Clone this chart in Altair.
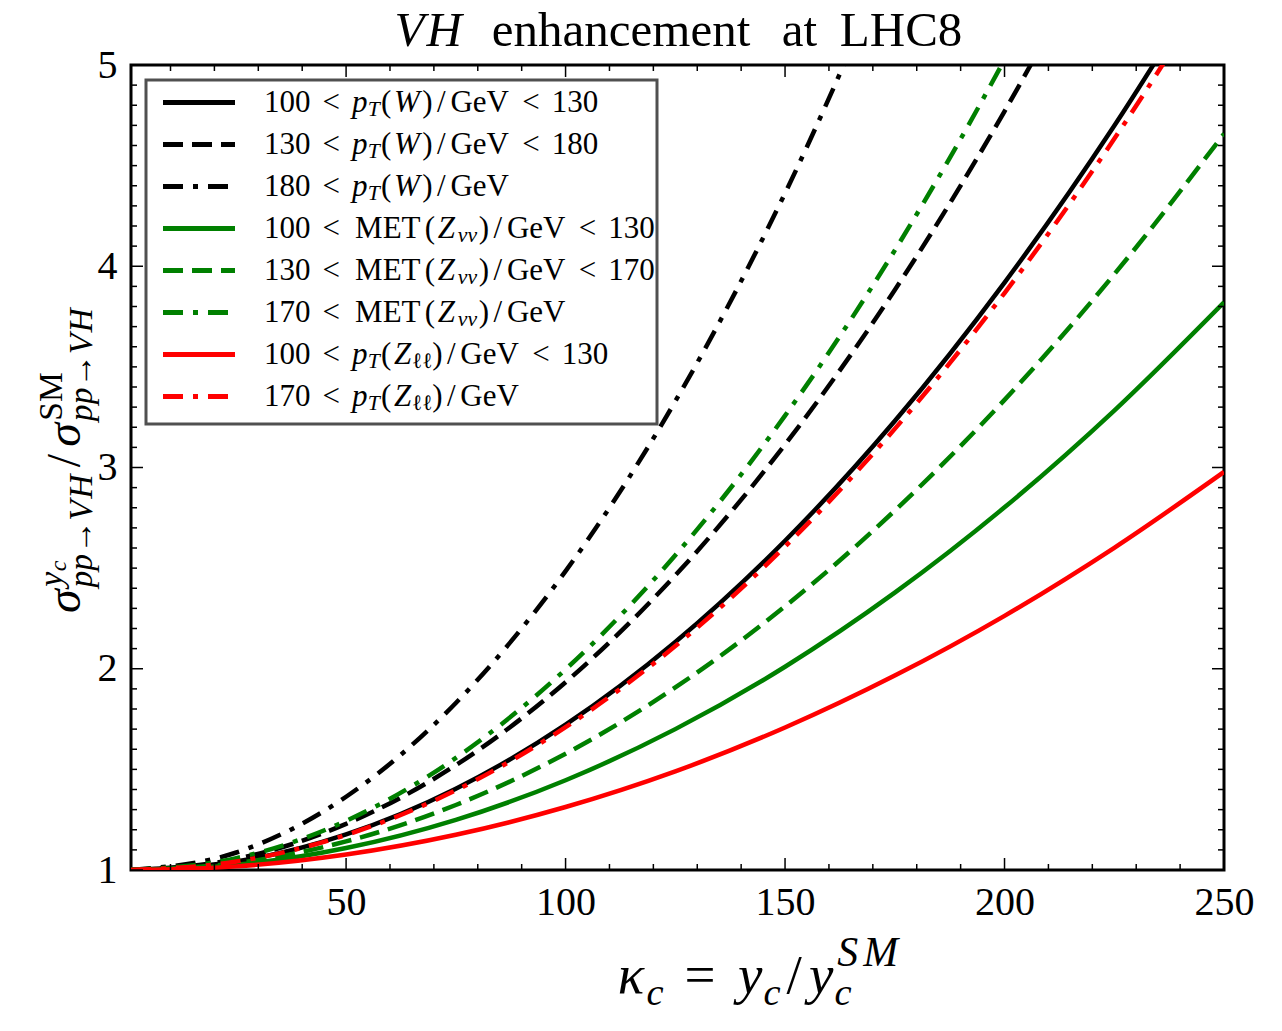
import altair as alt
import pandas as pd

# ---------------- data ----------------
kappa = [1, 25, 50, 75, 100, 125, 150, 175, 200, 225, 250]

w_100_130 = [1.000, 1.042, 1.177, 1.404, 1.722, 2.133, 2.636, 3.231, 3.919, 4.698, 5.569]
w_130_180 = [1.000, 1.055, 1.229, 1.521, 1.933, 2.464, 3.114, 3.882, 4.770, 5.777]
w_180 = [1.000, 1.087, 1.364, 1.830, 2.485, 3.329, 4.363, 5.587]
met_100_130 = [1.000, 1.026, 1.109, 1.249, 1.446, 1.700, 2.010, 2.378, 2.802, 3.283, 3.821]
met_130_170 = [1.000, 1.034, 1.142, 1.323, 1.578, 1.907, 2.310, 2.786, 3.336, 3.960, 4.658]
met_170 = [1.000, 1.059, 1.244, 1.557, 1.997, 2.564, 3.258, 4.079, 5.027, 6.100]
zll_100_130 = [1.000, 1.018, 1.077, 1.175, 1.313, 1.490, 1.708, 1.966, 2.263, 2.601, 2.978]
zll_170 = [1.000, 1.042, 1.174, 1.396, 1.710, 2.113, 2.607, 3.192, 3.867, 4.633, 5.489]

series_values = [w_100_130, w_130_180, w_180, met_100_130, met_130_170, met_170,
                 zll_100_130, zll_170]

x_major = [50, 100, 150, 200, 250]
x_minor = [10, 20, 30, 40, 60, 70, 80, 90, 110, 120, 130, 140, 160, 170, 180, 190,
           210, 220, 230, 240]
y_major = [1, 2, 3, 4, 5]
y_minor = [round(i / 10, 1) for i in range(11, 50) if i % 10]

# ---------------- styles ----------------
DASHED = [20, 9]
DASHDOT = [20, 10, 5, 10]
series_style = [
    ("black", None), ("black", DASHED), ("black", DASHDOT),
    ("#008000", None), ("#008000", DASHED), ("#008000", DASHDOT),
    ("#ff0000", None), ("#ff0000", DASHDOT),
]

W, H = 1093, 805
LEFT, TOP = 131, 65
X0, X1 = 1, 250
Y0, Y1 = 1, 5
FONT = "Liberation Serif, DejaVu Serif, serif"

XS = alt.Scale(domain=[X0, X1], zero=False, nice=False)
YS = alt.Scale(domain=[Y0, Y1], zero=False, nice=False)
XAX = alt.Axis(values=x_major, labelFont=FONT, labelFontSize=40, labelColor="black",
               labelPadding=12, labelFlush=False, labelOverlap=False, ticks=False,
               domain=False, grid=False, title=None)
YAX = alt.Axis(values=y_major, labelFont=FONT, labelFontSize=40, labelColor="black",
               labelPadding=14, labelFlush=False, labelOverlap=False, ticks=False,
               domain=False, grid=False, title=None)


def X(field):
    return alt.X(field, type="quantitative", scale=XS, axis=XAX)


def Y(field):
    return alt.Y(field, type="quantitative", scale=YS, axis=YAX)


# ---------------- simple TeX-like text layout ----------------
CMR = {ch: 0.5 for ch in "0123456789"}
CMR.update({' ': .333, '(': .389, ')': .389, '/': .5, '<': .778, '=': .778, '→': 1.0,
            'G': .785, 'e': .444, 'V': .75, 'M': .917, 'E': .681, 'T': .722, 'L': .625,
            'H': .75, 'C': .722, 'S': .556, 'a': .5, 'n': .556, 'h': .556, 'c': .444,
            'm': .833, 't': .389, 'ℓ': .417})
CMI = {'p': .503, 'T': .584, 'W': .944, 'Z': .681, 'V': .583, 'H': .831, 'y': .49,
       'c': .433, 'S': .613, 'M': .97, 'κ': .576, 'ν': .485, 'ℓ': .417, 'σ': .571}


def width(text, style):
    table = CMI if style == "i" else CMR
    return sum(table.get(ch, .5) for ch in text)


def t(text, style="r", scale=1.0, shift=0.0):
    return ("t", text, style, scale, shift)


def sp(em):
    return ("sp", em)


def scripts(*branches):
    return ("s", branches)


pieces = []


def place(seq, x0, y0, E, vertical=False, dry=False):
    x = 0.0

    def put(off, shift, text, style, size):
        if dry:
            return
        if vertical:
            px, py, ang = x0 + shift, y0 - off, 270
        else:
            px, py, ang = x0 + off, y0 + shift, 0
        pieces.append(dict(px=px, py=py, text=text, style=style,
                           fs=round(size, 1), ang=ang))

    for item in seq:
        if item[0] == "sp":
            x += item[1] * E
        elif item[0] == "t":
            _, text, style, scale, shift = item
            ww = width(text, style) * E * scale
            put(x + ww / 2, shift * E, text, style, E * scale)
            x += ww
        else:
            adv = 0.0
            for branch in item[1]:
                xx = x
                for _, text, style, scale, shift in branch:
                    ww = width(text, style) * E * scale
                    put(xx + ww / 2, shift * E, text, style, E * scale)
                    xx += ww
                adv = max(adv, xx - x)
            x += adv
    return x


THICK = .278
SUB = .15


def pt_label(n1, arg, n2=None):
    seq = [t(n1), sp(THICK), t("<"), sp(THICK), t("p", "i"),
           scripts([t("T", "i", .7, SUB)]), t("(")] + arg + [t(")"), t("/"), t("GeV")]
    if n2:
        seq += [sp(THICK), t("<"), sp(THICK), t(n2)]
    return seq


def met_label(n1, n2=None):
    seq = [t(n1), sp(THICK), t("<"), sp(THICK), t("MET"), t("("), t("Z", "i"),
           scripts([t("νν", "i", .7, SUB)]), t(")"), t("/"), t("GeV")]
    if n2:
        seq += [sp(THICK), t("<"), sp(THICK), t(n2)]
    return seq


W_ARG = [t("W", "i")]
Z_ARG = [t("Z", "i"), scripts([t("ℓℓ", "r", .7, SUB)])]
legend_labels = [
    pt_label("100", W_ARG, "130"),
    pt_label("130", W_ARG, "180"),
    pt_label("180", W_ARG),
    met_label("100", "130"),
    met_label("130", "170"),
    met_label("170"),
    pt_label("100", Z_ARG, "130"),
    pt_label("170", Z_ARG),
]

# title
title_seq = [t("V", "i"), t("H", "i"), sp(.333), t("enhancement"), sp(.333), t("at"),
             sp(.333), t("LHC8")]
tw = place(title_seq, 0, 0, 49, dry=True)
place(title_seq, 680 - tw / 2, 46, 49)

# legend labels
for i, seq in enumerate(legend_labels):
    place(seq, 264, 111.5 + 42 * i, 31)

# x title
x_title = [t("κ", "i"), scripts([t("c", "i", .7, .22)]), sp(THICK), t("="), sp(THICK),
           t("y", "i"), scripts([t("c", "i", .7, .22)]), t("/"), t("y", "i"),
           scripts([t("S", "i", .76, -.5), t("M", "i", .76, -.5)],
                   [t("c", "i", .7, .22)])]
place(x_title, 615, 993, 55)

# y title (rotated)
sub_vh = [t("p", "i", .7, .24), t("p", "i", .7, .24), t("→", "r", .7, .24),
          t("V", "i", .7, .24), t("H", "i", .7, .24)]
y_title = [t("σ", "i"),
           scripts([t("y", "i", .7, -.38), t("c", "i", .5, -.3)], sub_vh),
           t("/"), t("σ", "i"),
           scripts([t("SM", "r", .7, -.38)], sub_vh)]
place(y_title, 80, 615, 48, vertical=True)

txt = pd.DataFrame(pieces)
txt["xd"] = X0 + (txt["px"] - LEFT) / W * (X1 - X0)
txt["yd"] = Y1 - (txt["py"] - TOP) / H * (Y1 - Y0)

# ---------------- layers ----------------
dummy = pd.DataFrame({"a": [0]})
layers = []

# legend frame
layers.append(
    alt.Chart(dummy).mark_rect(fill="white", stroke="#505050", strokeWidth=3).encode(
        x=alt.value(15), x2=alt.value(526), y=alt.value(15), y2=alt.value(359))
)

# curves
for vals, (col, dash) in zip(series_values, series_style):
    df = pd.DataFrame({"kappa": kappa[:len(vals)], "ratio": vals})
    kw = dict(color=col, strokeWidth=4.5, clip=True, interpolate="monotone",
              strokeCap="butt")
    if dash:
        kw["strokeDash"] = dash
    layers.append(alt.Chart(df).mark_line(**kw).encode(x=X("kappa"), y=Y("ratio")))

# inward ticks on all four sides
for vals, L in ((x_major, 12), (x_minor, 6)):
    d = pd.DataFrame({"v": vals})
    layers.append(alt.Chart(d).mark_rule(color="black", strokeWidth=1.5).encode(
        x=X("v"), y=alt.value(H), y2=alt.value(H - L)))
    layers.append(alt.Chart(d).mark_rule(color="black", strokeWidth=1.5).encode(
        x=X("v"), y=alt.value(0), y2=alt.value(L)))
for vals, L in ((y_major, 12), (y_minor, 6)):
    d = pd.DataFrame({"v": vals})
    layers.append(alt.Chart(d).mark_rule(color="black", strokeWidth=1.5).encode(
        y=Y("v"), x=alt.value(0), x2=alt.value(L)))
    layers.append(alt.Chart(d).mark_rule(color="black", strokeWidth=1.5).encode(
        y=Y("v"), x=alt.value(W), x2=alt.value(W - L)))

# legend handles
for i, (col, dash) in enumerate(series_style):
    kw = dict(color=col, strokeWidth=5, strokeCap="butt")
    if dash:
        kw["strokeDash"] = dash
    yy = 37.5 + 42 * i
    layers.append(alt.Chart(dummy).mark_rule(**kw).encode(
        x=alt.value(32), x2=alt.value(104), y=alt.value(yy)))

# text pieces (title, axis titles, legend labels)
for (style, fs, ang), grp in txt.groupby(["style", "fs", "ang"]):
    layers.append(
        alt.Chart(grp[["xd", "yd", "text"]]).mark_text(
            font=FONT, fontStyle="italic" if style == "i" else "normal",
            fontSize=float(fs), angle=int(ang), align="center", baseline="alphabetic",
            color="black").encode(x=X("xd"), y=Y("yd"), text="text:N")
    )

chart = alt.layer(*layers).properties(
    width=W, height=H,
    padding={"left": LEFT, "top": TOP, "right": 1282 - LEFT - W, "bottom": 161},
    autosize=alt.AutoSizeParams(type="none"),
).configure(background="white").configure_view(stroke="black", strokeWidth=3)

chart.save("out.html", embed_options={"renderer": "svg", "actions": False})
